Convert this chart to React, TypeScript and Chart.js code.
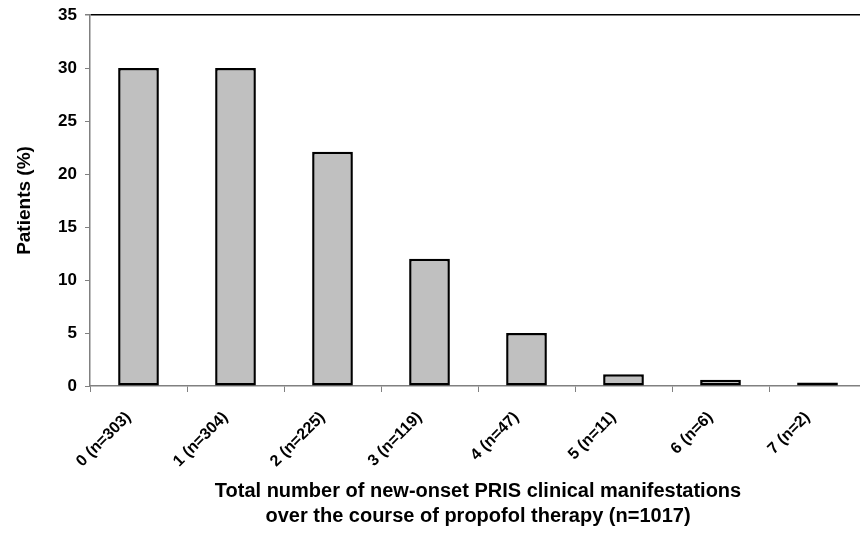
import React, { useEffect, useRef } from "react";
import { Chart, registerables } from "chart.js";

Chart.register(...registerables);

const categories = ["0 (n=303)", "1 (n=304)", "2 (n=225)", "3 (n=119)", "4 (n=47)", "5 (n=11)", "6 (n=6)", "7 (n=2)"];
const patientsPct = [30, 30, 22.1, 12, 5, 1.1, 0.6, 0.33];
const yTicks = [0, 5, 10, 15, 20, 25, 30, 35];
const xTitle = ["Total number of new-onset PRIS clinical manifestations", "over the course of propofol therapy (n=1017)"];
const yTitle = "Patients (%)";

export default function App() {
  const ref = useRef<HTMLCanvasElement | null>(null);
  useEffect(() => {
    if (!ref.current) return;
    const font = "'Liberation Sans', Arial, sans-serif";
    const chart = new Chart(ref.current, {
      type: "bar",
      data: {
        labels: categories,
        datasets: [
          {
            data: patientsPct,
            backgroundColor: "#c0c0c0",
            borderColor: "#000000",
            borderWidth: 2.5,
            borderSkipped: false,
            barPercentage: 0.42,
            categoryPercentage: 1,
          },
        ],
      },
      options: {
        animation: false,
        responsive: false,
        devicePixelRatio: 1,
        layout: { padding: { top: 15, left: 0, right: 2, bottom: 0 } },
        plugins: { legend: { display: false }, tooltip: { enabled: false } },
        scales: {
          x: {
            afterFit: (axis: any) => {
              axis.height = 147;
              axis.paddingTop = 0;
              axis.paddingBottom = 0;
            },
            border: { color: "#808080", width: 1.5 },
            grid: { display: true, drawOnChartArea: false, offset: true, tickLength: 6, color: "#808080" },
            ticks: {
              minRotation: 45,
              maxRotation: 45,
              color: "#000",
              font: { family: font, size: 16, weight: "bold" },
              padding: 16,
              labelOffset: -10,
            },
            title: {
              display: true,
              text: xTitle,
              color: "#000",
              font: { family: font, size: 20, weight: "bold", lineHeight: 1.25 },
              padding: { top: 0, bottom: 4 },
            },
          },
          y: {
            min: 0,
            max: 35,
            afterBuildTicks: (axis: any) => {
              axis.ticks = yTicks.map((v) => ({ value: v }));
            },
            afterFit: (axis: any) => {
              axis.width = 90;
              axis.paddingTop = 0;
              axis.paddingBottom = 0;
            },
            border: { color: "#808080", width: 1.5 },
            grid: {
              drawOnChartArea: true,
              tickLength: 5,
              tickColor: "#808080",
              lineWidth: (ctx: any) => (ctx.tick && ctx.tick.value === 35 ? 1.5 : 1),
              color: (ctx: any) => (ctx.tick && ctx.tick.value === 35 ? "#000000" : "rgba(0,0,0,0)"),
            },
            ticks: {
              color: "#000",
              font: { family: font, size: 17, weight: "bold" },
              padding: 8,
            },
            title: {
              display: true,
              text: yTitle,
              color: "#000",
              font: { family: font, size: 19, weight: "bold", lineHeight: 1.2 },
              padding: { top: 13, bottom: 0 },
            },
          },
        },
      },
    });
    return () => chart.destroy();
  }, []);
  return (
    <div style={{ position: "absolute", left: 0, top: 0, width: 860, height: 533, overflow: "hidden" }}>
      <canvas ref={ref} width={868} height={533} style={{ display: "block" }} />
    </div>
  );
}
